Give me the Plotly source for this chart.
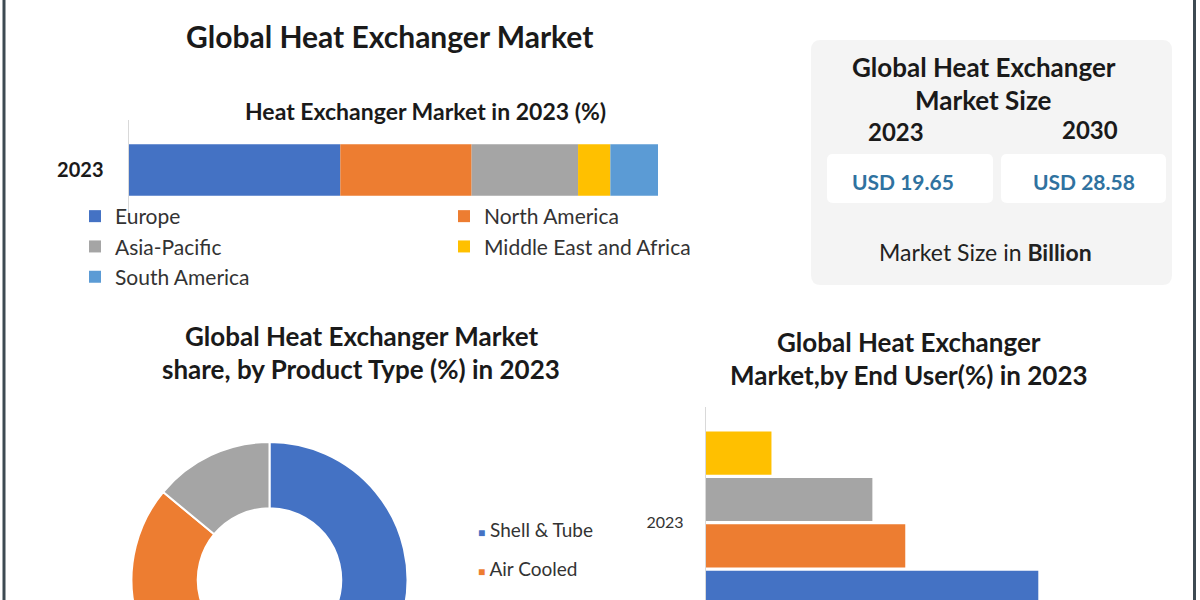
import numpy as np
import plotly.graph_objects as go

W, H = 1200, 760
FONT = "Lato"

# ---------------- data ----------------
year_label = ["2023"]

regions = ["Europe", "North America", "Asia-Pacific", "Middle East and Africa", "South America"]
region_share = [40.0, 24.8, 20.1, 6.1, 9.0]
region_colors = ["#4472C4", "#ED7D31", "#A5A5A5", "#FFC000", "#5B9BD5"]

product_types = ["Shell & Tube", "Air Cooled", "Plate"]
product_share = [56, 30, 14]
product_colors = ["#4472C4", "#ED7D31", "#A5A5A5"]
product_legend_shown = ["Shell & Tube", "Air Cooled"]

end_users = ["Chemical", "Petrochemical and Oil & Gas", "HVAC & Refrigeration", "Food & Beverage"]
end_user_share = [43.5, 26.1, 21.8, 8.6]
end_user_colors = ["#4472C4", "#ED7D31", "#A5A5A5", "#FFC000"]

size_years = ["2023", "2030"]
size_values = ["USD 19.65", "USD 28.58"]


def px(x):
    return x / W


def py(y):
    return 1 - y / H


fig = go.Figure()

# ---------------- top stacked bar ----------------
bases = np.concatenate([[0.0], np.cumsum(region_share)[:-1]])
for i, (name, val, col) in enumerate(zip(regions, region_share, region_colors)):
    fig.add_trace(go.Bar(
        y=year_label, x=[val], base=[bases[i]], orientation="h",
        name=name, offsetgroup="regions", marker=dict(color=col, line=dict(width=0)),
        legend="legend" if i % 2 == 0 else "legend2",
        xaxis="x", yaxis="y", hoverinfo="name+x",
    ))

# ---------------- end user grouped bars ----------------
for name, val, col in zip(end_users, end_user_share, end_user_colors):
    fig.add_trace(go.Bar(
        y=year_label, x=[val], orientation="h", name=name,
        marker=dict(color=col, line=dict(width=0)),
        xaxis="x2", yaxis="y2", showlegend=False, hoverinfo="name+x",
    ))

# ---------------- donut ----------------
cx, cy, r = 269.5, 580, 138
fig.add_trace(go.Pie(
    labels=product_types, values=product_share, hole=0.52, sort=False,
    direction="clockwise", rotation=0, textinfo="none", showlegend=False,
    marker=dict(colors=product_colors, line=dict(color="white", width=2)),
    domain=dict(x=[px(cx - r), px(cx + r)], y=[py(cy + r), py(cy - r)]),
))

# ---------------- annotations ----------------
ann = []


def text(x, y, t, size, color="#1a1a1a", xanchor="center", bold=False):
    ann.append(dict(x=px(x), y=py(y), xref="paper", yref="paper", text=("<b>%s</b>" % t) if bold else t,
                    showarrow=False, xanchor=xanchor, yanchor="middle",
                    font=dict(family=FONT, size=size, color=color)))


text(389, 36, "Global Heat Exchanger Market", 30, bold=True)
text(425, 111, "Heat Exchanger Market in 2023 (%)", 23, bold=True)

text(984, 67, "Global Heat Exchanger", 26, bold=True)
text(984, 100, "Market Size", 26, bold=True)
text(896, 131, size_years[0], 24, bold=True)
text(1090, 130, size_years[1], 24, bold=True)
text(903, 181, size_values[0], 21, color="#2F72A0", bold=True)
text(1084, 181, size_values[1], 21, color="#2F72A0", bold=True)
text(985, 252, "Market Size in <b>Billion</b>", 23, color="#222222")

text(361, 336, "Global Heat Exchanger Market", 26, bold=True)
text(361, 369, "share, by Product Type (%) in 2023", 26, bold=True)
text(909, 342, "Global Heat Exchanger", 26, bold=True)
text(909, 375, "Market,by End User(%) in 2023", 26, bold=True)

for i, lab in enumerate(product_legend_shown):
    col = product_colors[product_types.index(lab)]
    ann.append(dict(x=px(476), y=py(529 + 39 * i), xref="paper", yref="paper", showarrow=False,
                    xanchor="left", yanchor="middle",
                    text='<span style="color:%s;font-size:12px">■</span> %s' % (col, lab),
                    font=dict(family=FONT, size=19, color="#333333")))


def rrect(x0, y0, x1, y1, rad):
    rx, ry = rad / W, rad / H
    X0, X1 = px(x0), px(x1)
    Y0, Y1 = py(y1), py(y0)
    return ("M%f,%f L%f,%f Q%f,%f %f,%f L%f,%f Q%f,%f %f,%f L%f,%f Q%f,%f %f,%f L%f,%f Q%f,%f %f,%f Z" % (
        X0 + rx, Y0, X1 - rx, Y0, X1, Y0, X1, Y0 + ry, X1, Y1 - ry, X1, Y1, X1 - rx, Y1,
        X0 + rx, Y1, X0, Y1, X0, Y1 - ry, X0, Y0 + ry, X0, Y0, X0 + rx, Y0))


shapes = [
    dict(type="path", xref="paper", yref="paper", path=rrect(811, 40, 1172, 285, 10),
         fillcolor="#f4f4f4", line=dict(width=0), layer="below"),
    dict(type="path", xref="paper", yref="paper", path=rrect(827, 154, 993, 203, 6),
         fillcolor="#ffffff", line=dict(width=0), layer="below"),
    dict(type="path", xref="paper", yref="paper", path=rrect(1001, 154, 1166, 203, 6),
         fillcolor="#ffffff", line=dict(width=0), layer="below"),
    dict(type="line", xref="paper", yref="paper", x0=px(4), x1=px(4), y0=0, y1=1,
         line=dict(color="#3d4a52", width=3)),
    dict(type="line", xref="paper", yref="paper", x0=px(1194.5), x1=px(1194.5), y0=0, y1=1,
         line=dict(color="#3d4a52", width=3)),
]

legend_common = dict(orientation="v", bgcolor="rgba(0,0,0,0)", xanchor="left", yanchor="top",
                     font=dict(family=FONT, size=21, color="#333333"), tracegroupgap=0,
                     itemclick=False, itemdoubleclick=False)

fig.update_layout(
    width=W, height=H,
    margin=dict(l=0, r=0, t=0, b=0),
    paper_bgcolor="white", plot_bgcolor="rgba(0,0,0,0)",
    barmode="group", bargap=0.2, bargroupgap=0.07,
    font=dict(family=FONT),
    xaxis=dict(domain=[px(128.5), px(658)], range=[0, 100], visible=False, anchor="y"),
    yaxis=dict(domain=[py(220), py(120)], range=[-0.7225, 0.7225], anchor="x", type="category",
               showline=True, linecolor="#d9d9d9", linewidth=1, showgrid=False, zeroline=False,
               ticks="", ticklabelstandoff=20,
               tickfont=dict(family=FONT, size=20, color="#1a1a1a", weight="bold")),
    xaxis2=dict(domain=[px(705.7), px(1088)], range=[0, 50], visible=False, anchor="y2"),
    yaxis2=dict(domain=[py(638.7), py(406.7)], anchor="x2", type="category",
                showline=True, linecolor="#d9d9d9", linewidth=1, showgrid=False, zeroline=False,
                ticks="", ticklabelstandoff=18,
                tickfont=dict(family=FONT, size=16, color="#333333")),
    legend=dict(x=px(75), y=py(196), **legend_common),
    legend2=dict(x=px(444), y=py(196), **legend_common),
    annotations=ann,
    shapes=shapes,
)

fig.write_html("out.html", post_script=(
    "document.body.style.margin='0';"
    "document.body.style.overflow='hidden';"
    "document.documentElement.style.overflow='hidden';"
))
